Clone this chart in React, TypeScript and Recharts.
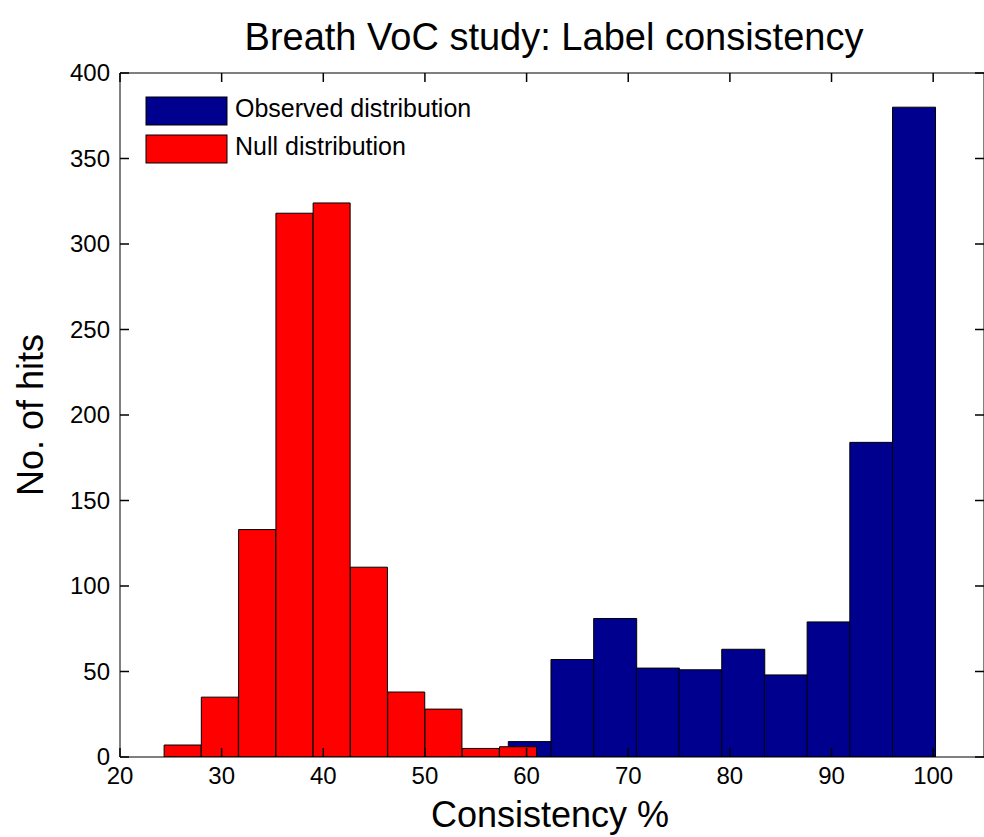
import React from "react";
import { BarChart, Bar, XAxis, YAxis, Legend, ReferenceLine } from "recharts";

// histogram bins (bin centres + counts)
const nullCenters = [26.17, 29.83, 33.5, 37.17, 40.83, 44.5, 48.17, 51.83, 55.5, 59.17];
const nullCounts = [7, 35, 133, 318, 324, 111, 38, 28, 5, 6];
const obsCenters = [60.3, 64.5, 68.7, 72.9, 77.1, 81.3, 85.5, 89.7, 93.9, 98.1];
const obsCounts = [9, 57, 81, 52, 51, 63, 48, 79, 184, 380];

const xTicks = [20, 30, 40, 50, 60, 70, 80, 90, 100];
const yTicks = [0, 50, 100, 150, 200, 250, 300, 350, 400];

const legendOrder = ["obs", "nul"];

const bins = nullCenters.map((xn, i) => ({
  xn,
  nul: nullCounts[i],
  xo: obsCenters[i],
  obs: obsCounts[i],
}));

const FONT = '"Liberation Sans", Arial, Helvetica, sans-serif';

const X_MIN = 20;
const X_MAX = 105;
const Y_MIN = 0;
const Y_MAX = 400;
const PLOT_W = 864;
const PLOT_H = 684;
const TICK_PX = 9;
// inward tick length expressed in data units so the library scales place them
const TICK_DX = (TICK_PX * (X_MAX - X_MIN)) / PLOT_W;
const TICK_DY = (TICK_PX * (Y_MAX - Y_MIN)) / PLOT_H;

const BottomTickLabel = ({ x, y, payload }: any) => (
  <text x={x} y={y + 27} textAnchor="middle" fontSize={24} fontFamily={FONT} fill="#000">
    {payload.value}
  </text>
);

const LeftTickLabel = ({ x, y, payload }: any) => (
  <text x={x - 10} y={y + 8} textAnchor="end" fontSize={24} fontFamily={FONT} fill="#000">
    {payload.value}
  </text>
);

const TitleLabel = ({ viewBox }: any) => (
  <text x={viewBox.x + viewBox.width / 2 + 2} y={50} textAnchor="middle" fontSize={38} fontFamily={FONT} fill="#000">
    Breath VoC study: Label consistency
  </text>
);

const XTitle = ({ viewBox }: any) => (
  <text x={viewBox.x + viewBox.width / 2 - 2} y={827} textAnchor="middle" fontSize={36} fontFamily={FONT} fill="#000">
    Consistency %
  </text>
);

const YTitle = ({ viewBox }: any) => {
  const cy = viewBox.y + viewBox.height / 2;
  return (
    <text x={43} y={cy} transform={`rotate(-90, 43, ${cy})`} textAnchor="middle" fontSize={36} fontFamily={FONT} fill="#000">
      No. of hits
    </text>
  );
};

const LegendBox = ({ payload }: any) => {
  const items = [...(payload || [])].sort(
    (a: any, b: any) => legendOrder.indexOf(a.dataKey) - legendOrder.indexOf(b.dataKey)
  );
  return (
    <svg width={360} height={80} style={{ display: "block" }}>
      {items.map((p: any, i: number) => (
        <g key={p.value}>
          <rect x={6} y={7 + i * 38} width={81} height={28} fill={p.color} stroke="#000" strokeWidth={1} />
          <text x={95} y={27 + i * 38} fontSize={25} fontFamily={FONT} fill="#000">
            {p.value}
          </text>
        </g>
      ))}
    </svg>
  );
};

const tickSeg = { stroke: "#000", strokeWidth: 1.5, ifOverflow: "visible" as const, xAxisId: "obs", yAxisId: "left" };

export default function App() {
  return (
    <div style={{ position: "absolute", left: 0, top: 0, width: 984, height: 837, background: "#fff", overflow: "hidden" }}>
      <BarChart
        width={984}
        height={837}
        data={bins}
        margin={{ top: 43, right: -1, bottom: 50, left: 60 }}
        barCategoryGap={0}
        barGap={0}
      >
        <XAxis
          xAxisId="obs"
          dataKey="xo"
          type="number"
          domain={[X_MIN, X_MAX]}
          ticks={xTicks}
          allowDataOverflow
          height={30}
          tickSize={0}
          tickMargin={0}
          tickLine={false}
          axisLine={{ stroke: "#000" }}
          tick={<BottomTickLabel />}
          interval={0}
          label={<XTitle />}
        />
        <XAxis
          xAxisId="nul"
          dataKey="xn"
          type="number"
          orientation="top"
          domain={[X_MIN, X_MAX]}
          ticks={xTicks}
          allowDataOverflow
          height={30}
          tickSize={0}
          tickLine={false}
          axisLine={{ stroke: "#000" }}
          tick={false}
          label={<TitleLabel />}
        />
        <YAxis
          yAxisId="left"
          domain={[Y_MIN, Y_MAX]}
          ticks={yTicks}
          allowDataOverflow
          width={60}
          tickSize={0}
          tickMargin={0}
          tickLine={false}
          axisLine={{ stroke: "#000" }}
          tick={<LeftTickLabel />}
          interval={0}
          label={<YTitle />}
        />
        <YAxis
          yAxisId="right"
          orientation="right"
          domain={[Y_MIN, Y_MAX]}
          ticks={yTicks}
          allowDataOverflow
          width={1}
          tickSize={0}
          tickLine={false}
          axisLine={{ stroke: "#000" }}
          tick={false}
        />

        {/* MATLAB-style inward tick marks on all four sides */}
        {yTicks.map((v) => (
          <ReferenceLine key={`l${v}`} {...tickSeg} segment={[{ x: X_MIN, y: v }, { x: X_MIN + TICK_DX, y: v }]} />
        ))}
        {yTicks.map((v) => (
          <ReferenceLine key={`r${v}`} {...tickSeg} segment={[{ x: X_MAX, y: v }, { x: X_MAX - TICK_DX, y: v }]} />
        ))}
        {xTicks.map((v) => (
          <ReferenceLine key={`b${v}`} {...tickSeg} segment={[{ x: v, y: Y_MIN }, { x: v, y: Y_MIN + TICK_DY }]} />
        ))}
        {xTicks.map((v) => (
          <ReferenceLine key={`t${v}`} {...tickSeg} segment={[{ x: v, y: Y_MAX }, { x: v, y: Y_MAX - TICK_DY }]} />
        ))}

        <Legend
          layout="vertical"
          align="center"
          verticalAlign="middle"
          wrapperStyle={{ left: 140, top: 90, width: 360, height: 80 }}
          content={<LegendBox />}
        />
        <Bar
          name="Observed distribution"
          dataKey="obs"
          xAxisId="obs"
          yAxisId="left"
          fill="#00008F"
          stroke="#000"
          strokeWidth={1}
          isAnimationActive={false}
        />
        <Bar
          name="Null distribution"
          dataKey="nul"
          xAxisId="nul"
          yAxisId="left"
          fill="#FF0000"
          stroke="#000"
          strokeWidth={1}
          isAnimationActive={false}
        />
      </BarChart>
    </div>
  );
}
